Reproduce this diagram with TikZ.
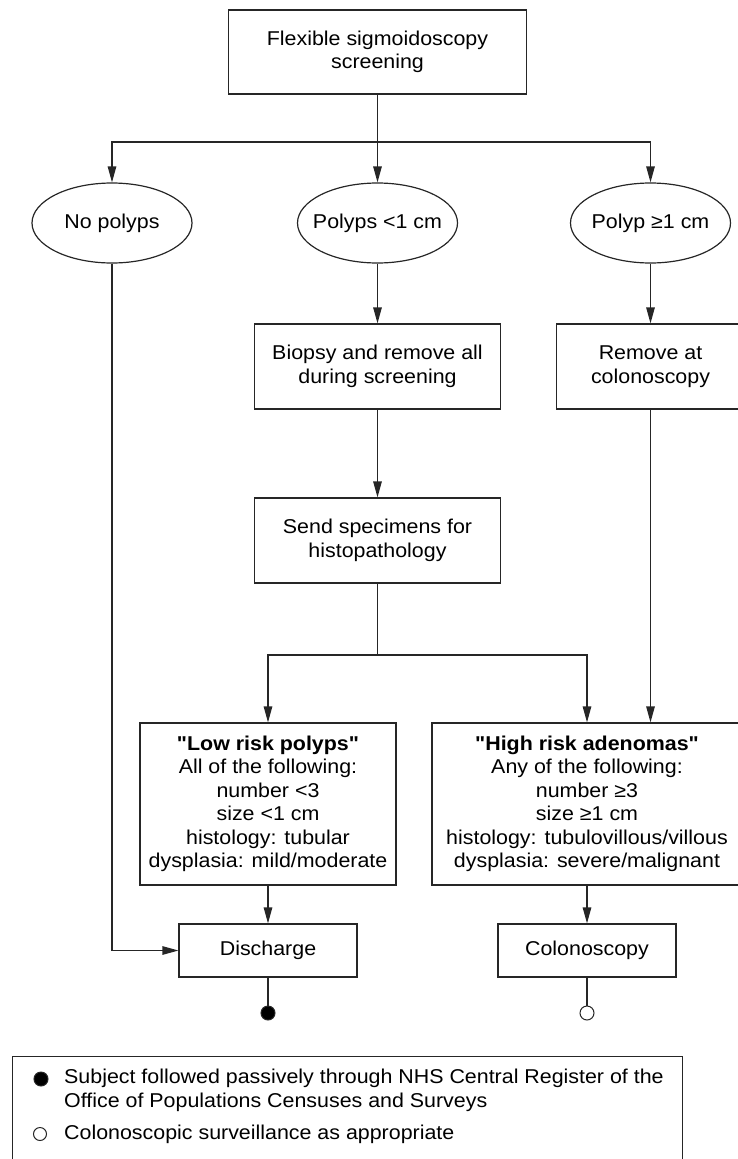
\documentclass[tikz,border=0pt]{standalone}
\usepackage{fontspec}
\setmainfont{Liberation Sans}[FakeStretch=1.07]
\newfontfamily\plainsans{Liberation Sans}[FakeStretch=1.07]
\usetikzlibrary{arrows.meta,shapes.geometric}
\definecolor{linec}{HTML}{262626}
\begin{document}
\begin{tikzpicture}[x=1pt,y=-1pt,
  font=\plainsans\fontsize{20}{23.5}\selectfont,
  box/.style={draw=linec, line width=1.2pt, rectangle, inner sep=0pt, align=center},
  oval/.style={draw=linec, line width=1.2pt, ellipse, inner sep=0pt, minimum width=160pt, minimum height=80pt},
  ln/.style={draw=linec, line width=1.2pt},
  arr/.style={draw=linec, line width=1.2pt, -{Triangle[length=16pt,width=8.5pt]}},
  dot/.style={draw=linec, line width=1pt, circle, inner sep=0pt, minimum size=14pt}]
\useasboundingbox (0,0) rectangle (737,1159);

% top
\node[box, minimum width=298pt, minimum height=84pt] (top) at (377.5,52) {Flexible sigmoidoscopy\\screening};

% ellipses
\node[oval] (nopoly) at (112,223) {};
\node (nopolyT) at (nopoly.center) {No polyps};
\node[oval] (small) at (377.5,223) {};
\node (smallT) at (small.center) {Polyps <1 cm};
\node[oval] (large) at (650.5,223) {};
\node (largeT) at (large.center) {Polyp ≥1 cm};

% second row
\node[box, minimum width=246pt, minimum height=85pt] (biopsy) at (377.5,366.5) {Biopsy and remove all\\during screening};
\node[box, minimum width=188pt, minimum height=85pt] (remove) at (650.5,366.5) {Remove at\\colonoscopy};

% send
\node[box, minimum width=246pt, minimum height=85pt] (send) at (377.5,540.5) {Send specimens for\\histopathology};

% risk boxes
\node[box, minimum width=256pt, minimum height=162pt] (low) at (268,804) {\textbf{"Low risk polyps"}\\All of the following:\\number <3\\size <1 cm\\histology: tubular\\dysplasia: mild/moderate};
\node[box, minimum width=310pt, minimum height=162pt] (high) at (587,804) {\textbf{"High risk adenomas"}\\Any of the following:\\number ≥3\\size ≥1 cm\\histology: tubulovillous/villous\\dysplasia: severe/malignant};

% outcomes
\node[box, minimum width=178pt, minimum height=53pt] (discharge) at (268,950.5) {Discharge};
\node[box, minimum width=178pt, minimum height=53pt] (colon) at (587,950.5) {Colonoscopy};

\node[dot, fill=black] (dot1) at (268,1013) {};
\node[dot, fill=white] (dot2) at (587,1013) {};

% legend
\node[draw=linec, line width=1.2pt, rectangle, inner sep=0pt, minimum width=670pt, minimum height=105pt] (legend) at (347.5,1109) {};
\node[dot, fill=black, minimum size=14pt] (lg1) at (41,1079) {};
\node[anchor=west, align=left, inner sep=0pt] (lg1T) at (64,1090.5) {Subject followed passively through NHS Central Register of the\\Office of Populations Censuses and Surveys};
\node[dot, fill=white, minimum size=13pt] (lg2) at (40,1134) {};
\node[anchor=west, inner sep=0pt] (lg2T) at (64,1134) {Colonoscopic surveillance as appropriate};

% connectors
\coordinate (split1) at (377.5,142);
\coordinate (split2) at (377.5,655);
\draw[arr] (top.south) -- (small.north);
\draw[arr] (split1) -| (nopoly.north);
\draw[arr] (split1) -| (large.north);
\draw[arr] (small.south) -- (biopsy.north);
\draw[arr] (large.south) -- (remove.north);
\draw[arr] (biopsy.south) -- (send.north);
\draw[ln] (send.south) -- (split2);
\draw[arr] (split2) -| (low.north);
\draw[arr] (split2) -| (high.north);
\draw[arr] (remove.south) -- (remove.south |- high.north);
\draw[arr] (nopoly.south) |- (discharge.west);
\draw[arr] (low.south) -- (discharge.north);
\draw[arr] (high.south) -- (colon.north);
\draw[ln] (discharge.south) -- (dot1.north);
\draw[ln] (colon.south) -- (dot2.north);
\end{tikzpicture}
\end{document}
